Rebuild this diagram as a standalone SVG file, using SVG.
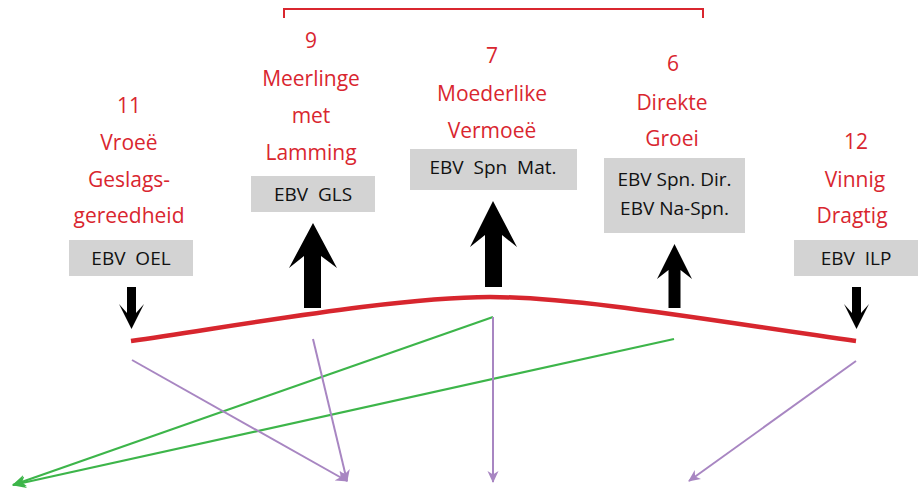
<svg xmlns="http://www.w3.org/2000/svg" width="921" height="493" viewBox="0 0 921 493">
<style>
.lbl{font-family:"Open Sans","Noto Sans",sans-serif;font-size:21px;fill:#d9262f;text-anchor:middle}
.ebv{font-family:"Open Sans","Noto Sans",sans-serif;font-size:19px;fill:#111;text-anchor:middle}
.box{fill:#d3d3d3}
.blk{fill:#000}
.grn{fill:none;stroke:#3db54a;stroke-width:2.2}
.pur{fill:none;stroke:#a886c2;stroke-width:2}
</style>
<defs>
<marker id="ag" viewBox="0 0 14 14" refX="13" refY="7" markerWidth="14" markerHeight="14" markerUnits="userSpaceOnUse" orient="auto">
<path d="M0,1 L14,7 L0,13 L4,7 z" fill="#3db54a"/>
</marker>
<marker id="ap" viewBox="0 0 12 12" refX="11" refY="6" markerWidth="12" markerHeight="12" markerUnits="userSpaceOnUse" orient="auto">
<path d="M0,0.5 L12,6 L0,11.5 L3.5,6 z" fill="#a886c2"/>
</marker>
</defs>

<g id="bracket">
<path d="M284,18 V9 H703 V18" fill="none" stroke="#d9262f" stroke-width="2"/>
</g>

<g id="curve">
<path d="M131,341 C260,322 400,297 490,297 C580,297 720,322 856,341" fill="none" stroke="#d7262e" stroke-width="4.5"/>
</g>

<g id="node-oel">
<text class="lbl" x="129" y="113">11</text>
<text class="lbl" x="129" y="150">Vroeë</text>
<text class="lbl" x="129" y="187">Geslags-</text>
<text class="lbl" x="129" y="223">gereedheid</text>
<rect class="box" x="69" y="240" width="124" height="36"/>
<text class="ebv" x="131" y="265" xml:space="preserve">EBV  OEL</text>
<polygon class="blk" points="127,287 136,287 136,313 144,304 131.5,329 119,304 127,313"/>
</g>

<g id="node-gls">
<text class="lbl" x="311" y="48">9</text>
<text class="lbl" x="311" y="86">Meerlinge</text>
<text class="lbl" x="311" y="123">met</text>
<text class="lbl" x="311" y="160">Lamming</text>
<rect class="box" x="251" y="176" width="124" height="36"/>
<text class="ebv" x="313" y="201" xml:space="preserve">EBV  GLS</text>
<polygon class="blk" points="313,223 337,268 321,256 321,308 304,308 304,256 289,268"/>
</g>

<g id="node-spnmat">
<text class="lbl" x="492" y="63">7</text>
<text class="lbl" x="492" y="101">Moederlike</text>
<text class="lbl" x="492" y="138">Vermoeë</text>
<rect class="box" x="410" y="149" width="167" height="41"/>
<text class="ebv" x="493" y="174" xml:space="preserve">EBV  Spn  Mat.</text>
<polygon class="blk" points="493,201 517,247 502,235 502,287 485,287 485,235 470,247"/>
</g>

<g id="node-direk">
<text class="lbl" x="673" y="71">6</text>
<text class="lbl" x="672" y="110">Direkte</text>
<text class="lbl" x="672" y="146">Groei</text>
<rect class="box" x="604" y="158" width="141" height="75"/>
<text class="ebv" x="674.5" y="186">EBV Spn. Dir.</text>
<text class="ebv" x="674.5" y="215">EBV Na-Spn.</text>
<polygon class="blk" points="674.5,244 692,279 680.5,270 680.5,308 668.5,308 668.5,270 657,279"/>
</g>

<g id="node-ilp">
<text class="lbl" x="856" y="149">12</text>
<text class="lbl" x="855" y="187">Vinnig</text>
<text class="lbl" x="852" y="223">Dragtig</text>
<rect class="box" x="794" y="240" width="124" height="36"/>
<text class="ebv" x="856" y="265" xml:space="preserve">EBV  ILP</text>
<polygon class="blk" points="852,287 861,287 861,313 869,304 856.5,329 844,304 852,313"/>
</g>

<g id="connectors">
<line class="grn" x1="493" y1="317" x2="13" y2="485" marker-end="url(#ag)"/>
<line class="grn" x1="674" y1="339" x2="13" y2="485" marker-end="url(#ag)"/>
<line class="pur" x1="132" y1="360" x2="347" y2="481" marker-end="url(#ap)"/>
<line class="pur" x1="313" y1="339" x2="347" y2="481" marker-end="url(#ap)"/>
<line class="pur" x1="493" y1="317" x2="493" y2="482" marker-end="url(#ap)"/>
<line class="pur" x1="856" y1="361" x2="689" y2="481" marker-end="url(#ap)"/>
</g>
</svg>
